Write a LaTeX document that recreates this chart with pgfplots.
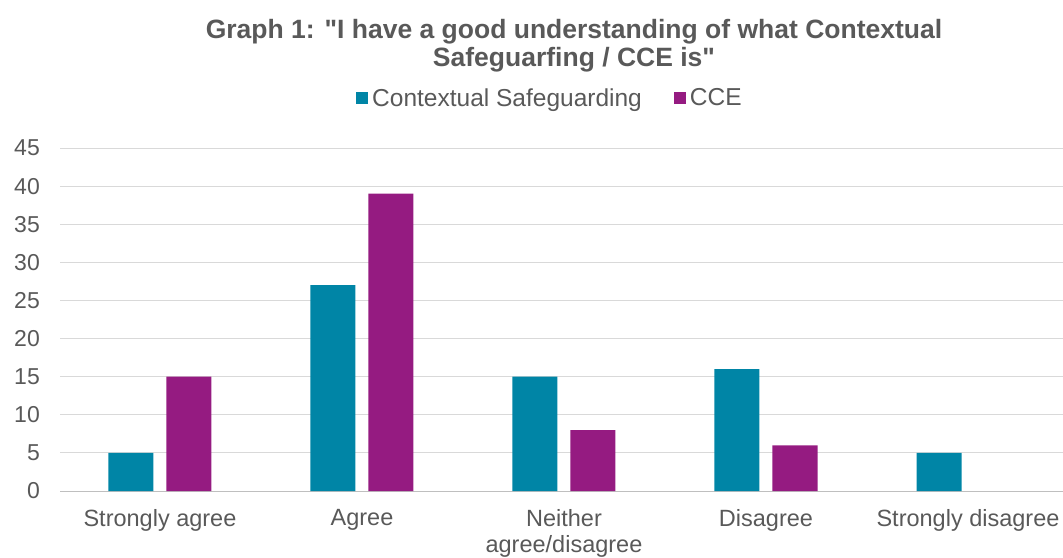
\documentclass[border=0pt]{standalone}
\usepackage{fontspec}
\setmainfont{Liberation Sans}[Ligatures=TeXOff]
\usepackage{pgfplots}
\pgfplotsset{compat=1.18}
\definecolor{cs}{RGB}{0,133,166}
\definecolor{cce}{RGB}{149,27,129}
\definecolor{txt}{RGB}{89,89,89}
\definecolor{gridc}{RGB}{217,217,217}
\definecolor{axc}{RGB}{191,191,191}
\begin{document}
\begin{tikzpicture}
\begin{axis}[
  at={(60pt,66pt)}, anchor=south west,
  x=202pt, y=7.622pt,
  xmin=-0.495, xmax=4.475,
  ymin=0, ymax=45,
  ytick={0,5,...,45},
  xtick={0,1,2,3,4},
  xticklabels={Strongly agree, Agree, {Neither\\agree/disagree}, Disagree, Strongly disagree},
  /pgf/number format/assume math mode=true,
  major tick length=0pt,
  axis x line*=bottom, axis y line*=left,
  x axis line style={draw=axc, line width=1pt},
  y axis line style={draw=none},
  ymajorgrids, grid style={draw=gridc, line width=1pt},
  xticklabel style={align=center, text=txt, font=\fontsize{23.5}{26}\selectfont, anchor=north, inner sep=0pt, yshift=-18pt},
  yticklabel style={text=txt, font=\fontsize{23}{26}\selectfont, anchor=east, inner sep=0pt, xshift=-20pt},
  ybar, bar width=45pt,
  legend style={at={(0.488,1.146)}, anchor=center, draw=none, fill=none, legend columns=2,
    font=\fontsize{24.5}{26}\selectfont, text=txt,
    /tikz/every even column/.append style={column sep=30pt},
    /tikz/every odd column/.append style={column sep=0pt}},
  legend image code/.code={\fill[#1] (0pt,-6pt) rectangle (12pt,6pt);},
]
\addplot[fill=cs, draw=none, bar shift=-29pt,
  legend image code/.code={\fill[cs] (0pt,-6pt) rectangle (12pt,6pt);}]
  coordinates {(0,5) (1,27) (2,15) (3,16) (4,5)};
\addlegendentry{\hspace{2pt}Contextual Safeguarding}
\addplot[fill=cce, draw=none, bar shift=29pt,
  legend image code/.code={\fill[cce] (0pt,-6pt) rectangle (12pt,6pt);}]
  coordinates {(0,15) (1,39) (2,8) (3,6)};
\addlegendentry{\hspace{2pt}CCE}
\end{axis}
\node[text=txt, font=\bfseries\fontsize{26.5}{28}\selectfont, align=center, anchor=center] at (574pt,511pt)
  {Graph 1: "I have a good understanding of what Contextual\\Safeguarfing / CCE is"};
\pgfresetboundingbox
\useasboundingbox (0,0) rectangle (1063pt,557pt);
\end{tikzpicture}
\end{document}
